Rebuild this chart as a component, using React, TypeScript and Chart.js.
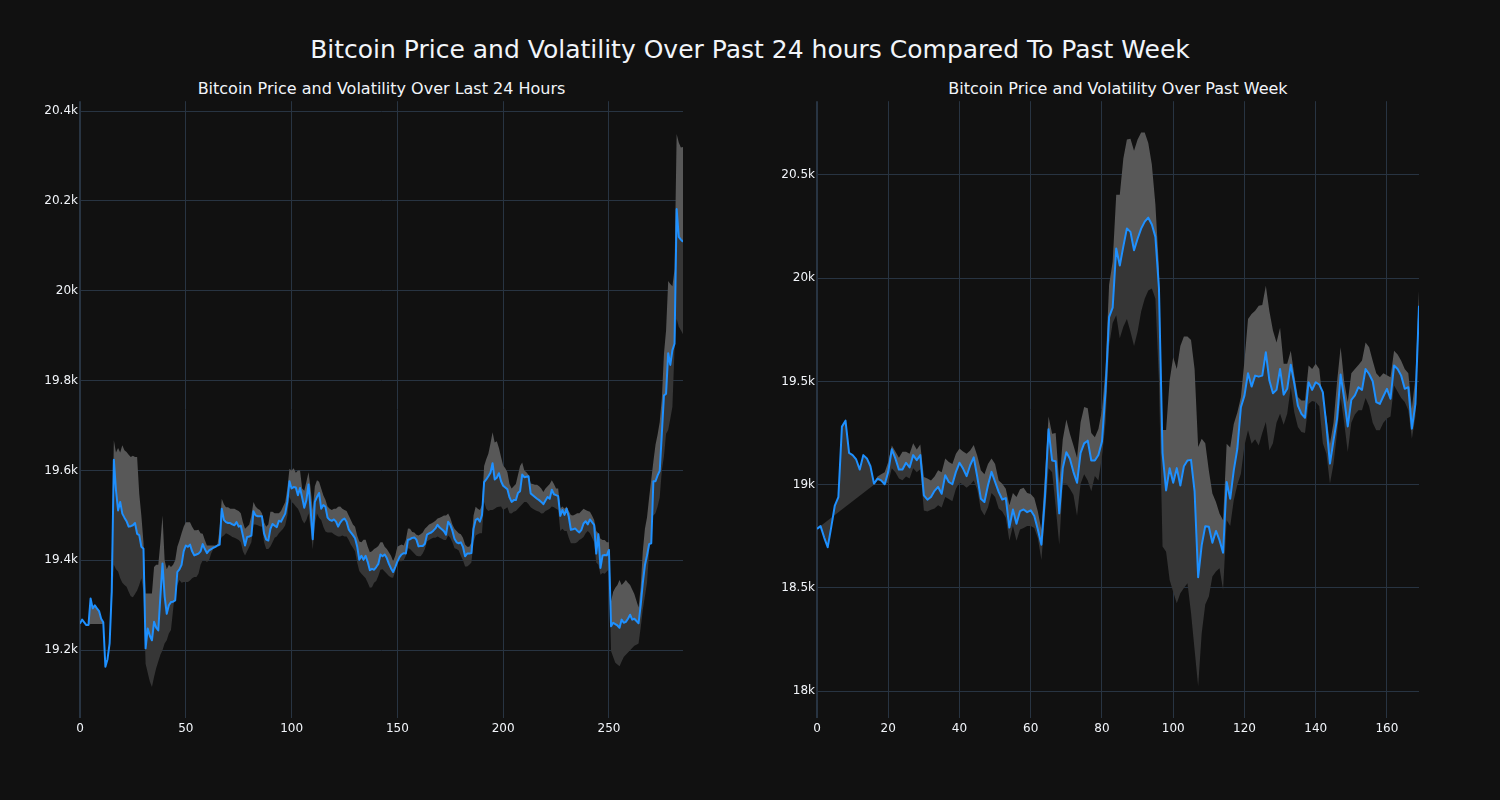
import React, { useEffect, useRef } from "react";
import { Chart, registerables } from "chart.js";
Chart.register(...registerables);

// ---------- Left: last 24 hours ----------
const leftPrice = [
  19259, 19268, 19262, 19256, 19256, 19315, 19293, 19300, 19293, 19287,
  19270, 19262, 19163, 19180, 19215, 19330, 19624, 19556, 19511, 19530,
  19504, 19495, 19487, 19475, 19476, 19478, 19483, 19459, 19456, 19430,
  19426, 19204, 19248, 19232, 19222, 19263, 19250, 19244, 19320, 19393,
  19320, 19281, 19300, 19307, 19308, 19311, 19374, 19380, 19390, 19420,
  19433, 19430, 19435, 19420, 19411, 19413, 19415, 19420, 19436, 19425,
  19416, 19422, 19425, 19428, 19430, 19433, 19435, 19515, 19490, 19485,
  19483, 19483, 19480, 19478, 19485, 19475, 19477, 19455, 19433, 19452,
  19453, 19455, 19509, 19500, 19498, 19498, 19498, 19460, 19446, 19444,
  19470, 19481, 19477, 19474, 19488, 19486, 19495, 19504, 19530, 19576,
  19560, 19563, 19562, 19545, 19561, 19540, 19517, 19534, 19569, 19512,
  19447, 19530, 19541, 19550, 19515, 19523, 19519, 19495, 19490, 19488,
  19491, 19486, 19475, 19484, 19490, 19493, 19486, 19469, 19462, 19456,
  19449, 19431, 19401, 19410, 19401, 19410, 19396, 19378, 19381, 19379,
  19385, 19392, 19413, 19409, 19413, 19405, 19392, 19382, 19374, 19385,
  19397, 19407, 19413, 19416, 19415, 19446, 19447, 19450, 19451, 19446,
  19431, 19432, 19432, 19437, 19457, 19460, 19462, 19466, 19471, 19479,
  19473, 19469, 19465, 19457, 19486, 19479, 19466, 19448, 19440, 19438,
  19440, 19430, 19409, 19415, 19415, 19416, 19470, 19490, 19493, 19486,
  19501, 19574, 19580, 19587, 19595, 19616, 19580, 19584, 19594, 19576,
  19566, 19562, 19558, 19540, 19530, 19534, 19534, 19550, 19554, 19591,
  19585, 19586, 19587, 19549, 19545, 19541, 19537, 19534, 19530, 19525,
  19533, 19541, 19537, 19557, 19547, 19545, 19543, 19499, 19512, 19501,
  19515, 19497, 19468, 19469, 19471, 19466, 19462, 19468, 19482, 19487,
  19480, 19491, 19485, 19479, 19415, 19458, 19383, 19411, 19412, 19411,
  19423, 19253, 19261, 19258, 19255, 19250, 19268, 19261, 19263, 19270,
  19279, 19268, 19270, 19265, 19260, 19300, 19350, 19389, 19411, 19436,
  19438, 19576, 19576, 19589, 19599, 19682, 19767, 19771, 19861, 19835,
  19868, 19882, 20182, 20120, 20114, 20109,
];
const leftUpper = [
  19259, 19268, 19262, 19256, 19256, 19258, 19258, 19258, 19258, 19258,
  19258, 19258, 19163, 19180, 19215, 19400, 19667, 19640, 19650, 19640,
  19656, 19645, 19641, 19635, 19630, 19633, 19630, 19630, 19548, 19500,
  19440, 19326, 19326, 19326, 19326, 19385, 19390, 19390, 19440, 19500,
  19400, 19380, 19390, 19385, 19390, 19400, 19430, 19444, 19460, 19475,
  19485, 19485, 19485, 19475, 19467, 19467, 19468, 19460, 19459, 19445,
  19433, 19433, 19433, 19433, 19433, 19435, 19470, 19537, 19525, 19518,
  19518, 19515, 19515, 19515, 19512, 19510, 19505, 19485, 19470, 19475,
  19480, 19500, 19530, 19520, 19515, 19512, 19505, 19485, 19475, 19480,
  19508, 19508, 19505, 19505, 19505, 19510, 19520, 19530, 19560, 19604,
  19600, 19605, 19595, 19600, 19600, 19560, 19555, 19575, 19596, 19560,
  19512, 19565, 19578, 19575, 19560, 19545, 19535, 19520, 19515, 19512,
  19515, 19515, 19519, 19520, 19515, 19512, 19510, 19500, 19490, 19480,
  19475, 19455, 19442, 19440, 19446, 19446, 19430, 19418, 19420, 19425,
  19428, 19432, 19440, 19440, 19430, 19425, 19418, 19410, 19398, 19410,
  19430, 19433, 19435, 19433, 19445, 19471, 19470, 19463, 19462, 19457,
  19455, 19458, 19462, 19470, 19475, 19480, 19482, 19485, 19488, 19493,
  19495, 19497, 19500, 19500, 19504, 19495, 19480, 19470, 19465, 19460,
  19458, 19450, 19435, 19430, 19430, 19440, 19500, 19519, 19515, 19512,
  19523, 19610, 19625, 19637, 19660, 19685, 19662, 19665, 19650, 19630,
  19611, 19605, 19596, 19570, 19560, 19565, 19570, 19590, 19610, 19618,
  19600, 19596, 19590, 19571, 19570, 19568, 19568, 19565, 19560, 19552,
  19560, 19565, 19570, 19578, 19570, 19560, 19560, 19515, 19520, 19515,
  19520, 19510, 19501, 19500, 19502, 19505, 19505, 19510, 19515, 19512,
  19510, 19508, 19500, 19490, 19465, 19460, 19448, 19445, 19445, 19440,
  19440, 19309, 19330, 19339, 19345, 19356, 19345, 19350, 19356, 19350,
  19345, 19335, 19325, 19310, 19295, 19340, 19420, 19470, 19496, 19540,
  19580, 19620, 19657, 19680, 19708, 19760, 19860, 19912, 20022, 20015,
  20010, 20048, 20349, 20330, 20319, 20320,
];
const leftLower = [
  19259, 19268, 19262, 19256, 19256, 19315, 19293, 19300, 19293, 19287,
  19270, 19262, 19163, 19180, 19215, 19300, 19390, 19380, 19375, 19360,
  19350, 19345, 19341, 19330, 19320, 19318, 19325, 19333, 19345, 19360,
  19330, 19170, 19150, 19130, 19118, 19140, 19160, 19175, 19190, 19200,
  19215, 19222, 19237, 19245, 19290, 19333, 19345, 19356, 19350, 19352,
  19352, 19352, 19355, 19360, 19363, 19363, 19370, 19390, 19400, 19400,
  19396, 19400, 19415, 19425, 19430, 19432, 19440, 19452, 19455, 19460,
  19458, 19455, 19452, 19450, 19448, 19445, 19440, 19420, 19411, 19420,
  19430, 19440, 19480, 19480, 19478, 19476, 19475, 19440, 19425, 19425,
  19431, 19440, 19450, 19453, 19460, 19465, 19470, 19478, 19500, 19541,
  19530, 19526, 19520, 19515, 19504, 19490, 19482, 19490, 19504, 19470,
  19424, 19480, 19504, 19495, 19490, 19475, 19464, 19462, 19462, 19462,
  19458, 19455, 19453, 19453, 19455, 19453, 19453, 19445, 19435, 19428,
  19420, 19395, 19376, 19370, 19365, 19360, 19350, 19339, 19340, 19350,
  19354, 19365, 19379, 19380, 19375, 19370, 19365, 19362, 19361, 19375,
  19398, 19398, 19398, 19400, 19410, 19427, 19425, 19420, 19415, 19410,
  19409, 19409, 19415, 19425, 19442, 19445, 19448, 19450, 19450, 19453,
  19450, 19448, 19445, 19445, 19455, 19450, 19440, 19427, 19425, 19422,
  19410, 19400, 19386, 19386, 19390, 19395, 19440, 19455, 19458, 19460,
  19460, 19530, 19515, 19510, 19512, 19512, 19515, 19518, 19519, 19520,
  19512, 19515, 19518, 19505, 19504, 19508, 19510, 19515, 19520, 19525,
  19530, 19530, 19525, 19518, 19515, 19512, 19510, 19508, 19504, 19505,
  19510, 19512, 19515, 19520, 19518, 19515, 19512, 19465, 19470, 19465,
  19465, 19450, 19438, 19438, 19438, 19440, 19445, 19448, 19452, 19460,
  19465, 19460, 19450, 19440, 19395, 19390, 19368, 19372, 19370, 19375,
  19380, 19198, 19185, 19172, 19168, 19164, 19175, 19185, 19190, 19195,
  19200, 19205, 19210, 19212, 19215, 19250, 19290, 19320, 19350, 19420,
  19496, 19500, 19505, 19520, 19540, 19600, 19631, 19682, 19690, 19715,
  19742, 19870, 19937, 19920, 19912, 19903,
];
const leftXTicks = [0, 50, 100, 150, 200, 250];
const leftYTicks = [19200, 19400, 19600, 19800, 20000, 20200, 20400];

// ---------- Right: past week ----------
const rightPrice = [
  18786, 18799, 18745, 18697, 18794, 18899, 18940, 19281, 19310, 19154,
  19143, 19122, 19073, 19143, 19127, 19089, 19005, 19029, 19021, 19002,
  19062, 19171, 19127, 19073, 19073, 19106, 19083, 19143, 19119, 19143,
  18948, 18927, 18940, 18970, 18989, 18956, 19046, 19013, 19002, 19062,
  19106, 19078, 19041, 19094, 19132, 19037, 18932, 18916, 18997, 19062,
  19013, 18965, 18928, 18935, 18792, 18880, 18811, 18872, 18880, 18867,
  18876, 18848, 18783, 18709, 18941, 19268, 19117, 19113, 18861, 19080,
  19157, 19126, 19061, 19009, 19154, 19200, 19213, 19117, 19117, 19144,
  19209, 19450, 19811, 19857, 20144, 20061, 20154, 20241, 20224, 20135,
  20191, 20240, 20274, 20293, 20260, 20200, 19950, 19154, 18972, 19080,
  19009, 19080, 18996, 19089, 19117, 19120, 18968, 18552, 18707, 18799,
  18796, 18719, 18776, 18731, 18670, 19013, 18932, 19069, 19174, 19375,
  19431, 19540, 19475, 19528, 19523, 19528, 19641, 19504, 19443, 19459,
  19560, 19436, 19464, 19581, 19488, 19383, 19343, 19324, 19496, 19459,
  19496, 19485, 19448, 19287, 19102, 19214, 19319, 19533, 19416, 19282,
  19411, 19432, 19472, 19459, 19560, 19536, 19501, 19400, 19391, 19428,
  19464, 19416, 19577, 19560, 19528, 19464, 19472, 19271, 19391, 19866,
];
const rightUpper = [
  18786, 18799, 18745, 18697, 18794, 18899, 18940, 19281, 19310, 19154,
  19143, 19122, 19073, 19143, 19127, 19089, 19010, 19040, 19050, 19060,
  19110, 19190, 19160, 19130, 19159, 19159, 19150, 19200, 19170, 19195,
  19037, 19030, 19020, 19040, 19070, 19060, 19127, 19110, 19100, 19150,
  19175, 19160, 19150, 19165, 19192, 19140, 19070, 19050, 19100, 19127,
  19100, 19020, 19005, 18980, 18900, 18960, 18940, 18978, 18985, 18960,
  18955, 18935, 18870, 18780, 19050, 19330, 19246, 19250, 19005, 19220,
  19315, 19246, 19190, 19130, 19302, 19376, 19370, 19250, 19230, 19270,
  19360, 19561, 19968, 20080, 20404, 20404, 20580, 20672, 20675, 20617,
  20672, 20706, 20706, 20654, 20550, 20357, 20050, 19265, 19265, 19506,
  19617, 19560, 19672, 19718, 19718, 19700, 19560, 19182, 19222, 19200,
  19069, 18957, 18916, 18860, 18828, 19198, 19180, 19294, 19350, 19423,
  19600, 19802, 19826, 19842, 19866, 19870, 19963, 19840, 19746, 19689,
  19760, 19585, 19585, 19649, 19530, 19424, 19408, 19408, 19577, 19560,
  19585, 19560, 19400, 19330, 19198, 19300, 19500, 19665, 19500, 19400,
  19540, 19560, 19580, 19601, 19689, 19665, 19600, 19540, 19520, 19540,
  19530, 19520, 19649, 19630, 19600, 19560, 19540, 19370, 19520, 19939,
];
const rightLower = [
  18786, null, null, null, null, null, null, null, null, null,
  null, null, null, null, null, null, 19000, 19020, 19015, 19000,
  19010, 19080, 19060, 19030, 19021, 19040, 19030, 19080, 19060, 19075,
  18875, 18870, 18878, 18885, 18900, 18890, 18940, 18930, 18920, 18980,
  19010, 19000, 18985, 19000, 19020, 18975, 18880, 18851, 18890, 18960,
  18940, 18885, 18870, 18840, 18728, 18800, 18728, 18783, 18790, 18800,
  18800, 18790, 18740, 18635, 18850, 19080, 19060, 18894, 18709, 19005,
  19005, 18980, 18950, 18848, 19005, 19050, 19020, 18968, 19042, 19020,
  19135, 19300, 19672, 19783, 19820, 19709, 19765, 19802, 19740, 19672,
  19740, 19839, 19900, 19940, 19950, 19900, 19500, 18700, 18675, 18538,
  18480, 18426, 18474, 18500, 18523, 18379, 18200, 18024, 18281, 18420,
  18458, 18555, 18580, 18595, 18490, 18828, 18800, 18924, 19000, 19053,
  19190, 19263, 19198, 19220, 19190, 19250, 19303, 19166, 19200, 19300,
  19343, 19290, 19343, 19472, 19350, 19279, 19255, 19250, 19391, 19405,
  19400, 19380, 19200, 19150, 19005, 19100, 19250, 19420, 19300, 19158,
  19300, 19340, 19360, 19360, 19420, 19380, 19300, 19263, 19263, 19300,
  19320, 19330, 19480, 19450, 19420, 19400, 19360, 19222, 19330, 19800,
];
const rightXTicks = [0, 20, 40, 60, 80, 100, 120, 140, 160];
const rightYTicks = [18000, 18500, 19000, 19500, 20000, 20500];

const TEXT = "#f2f5fa";
const GRID = "#283442";
const FONT = "'DejaVu Sans', Verdana, sans-serif";

function fmtK(v: number): string {
  const k = v / 1000;
  return `${parseFloat(k.toFixed(2))}k`;
}

type PanelProps = {
  price: (number | null)[];
  upper: (number | null)[];
  lower: (number | null)[];
  xMax: number;
  yMin: number;
  yMax: number;
  xTicks: number[];
  yTicks: number[];
  width: number;
  height: number;
};

function Panel(p: PanelProps) {
  const ref = useRef<HTMLCanvasElement | null>(null);
  useEffect(() => {
    if (!ref.current) return;
    const pts = (arr: (number | null)[]) => arr.map((y, i) => ({ x: i, y }));
    const chart = new Chart(ref.current, {
      type: "line",
      data: {
        datasets: [
          {
            label: "price",
            data: pts(p.price) as any,
            borderColor: "#1e90ff",
            borderWidth: 2,
            pointRadius: 0,
            fill: false,
            tension: 0,
            borderJoinStyle: "round",
          },
          {
            label: "upper",
            data: pts(p.upper) as any,
            borderColor: "rgba(0,0,0,0)",
            borderWidth: 0,
            pointRadius: 0,
            fill: { target: 0 },
            backgroundColor: "#585858",
            tension: 0,
          },
          {
            label: "lower",
            data: pts(p.lower) as any,
            borderColor: "rgba(0,0,0,0)",
            borderWidth: 0,
            pointRadius: 0,
            spanGaps: true,
            fill: { target: 0 },
            backgroundColor: "#363636",
            tension: 0,
          },
        ],
      },
      options: {
        animation: false,
        responsive: false,
        events: [],
        layout: { padding: { left: 0, right: 7, top: 0, bottom: 0 } },
        plugins: {
          legend: { display: false },
          tooltip: { enabled: false },
          title: { display: false },
        },
        scales: {
          x: {
            type: "linear",
            min: 0,
            max: p.xMax,
            afterBuildTicks: (a: any) => {
              a.ticks = p.xTicks.map((v) => ({ value: v }));
            },
            afterFit: (a: any) => {
              a.height = 37;
            },
            grid: {
              color: GRID,
              lineWidth: (ctx: any) => (ctx.tick && ctx.tick.value === 0 ? 2 : 1),
              drawTicks: false,
            },
            border: { display: false },
            ticks: {
              color: TEXT,
              font: { family: FONT, size: 12 },
              padding: 4,
              maxRotation: 0,
              autoSkip: false,
              callback: (v: any) => String(v),
            },
          },
          y: {
            type: "linear",
            min: p.yMin,
            max: p.yMax,
            afterBuildTicks: (a: any) => {
              a.ticks = p.yTicks.map((v) => ({ value: v }));
            },
            afterFit: (a: any) => {
              a.width = 80;
            },
            grid: { color: GRID, lineWidth: 1, drawTicks: false },
            border: { display: false },
            ticks: {
              color: TEXT,
              font: { family: FONT, size: 12 },
              padding: 2,
              autoSkip: false,
              callback: (v: any) => fmtK(Number(v)),
            },
          },
        },
      } as any,
    });
    return () => chart.destroy();
  }, []);
  return <canvas ref={ref} width={p.width} height={p.height} style={{ display: "block" }} />;
}

export default function App() {
  return (
    <div
      style={{
        position: "fixed",
        left: 0,
        top: 0,
        width: 1500,
        height: 800,
        background: "#111111",
        fontFamily: FONT,
        color: TEXT,
        overflow: "hidden",
      }}
    >
      <div
        style={{
          position: "absolute",
          left: 0,
          top: 34,
          width: 1500,
          textAlign: "center",
          fontSize: 25,
          lineHeight: "32px",
        }}
      >
        Bitcoin Price and Volatility Over Past 24 hours Compared To Past Week
      </div>
      <div
        style={{
          position: "absolute",
          left: 80,
          top: 78,
          width: 603,
          textAlign: "center",
          fontSize: 16,
          lineHeight: "22px",
        }}
      >
        Bitcoin Price and Volatility Over Last 24 Hours
      </div>
      <div
        style={{
          position: "absolute",
          left: 817,
          top: 78,
          width: 602,
          textAlign: "center",
          fontSize: 16,
          lineHeight: "22px",
        }}
      >
        Bitcoin Price and Volatility Over Past Week
      </div>
      <div style={{ position: "absolute", left: 0, top: 92 }}>
        <Panel
          price={leftPrice}
          upper={leftUpper}
          lower={leftLower}
          xMax={285}
          yMin={19049}
          yMax={20422}
          xTicks={leftXTicks}
          yTicks={leftYTicks}
          width={690}
          height={663}
        />
      </div>
      <div style={{ position: "absolute", left: 737, top: 92 }}>
        <Panel
          price={rightPrice}
          upper={rightUpper}
          lower={rightLower}
          xMax={169}
          yMin={17870}
          yMax={20857}
          xTicks={rightXTicks}
          yTicks={rightYTicks}
          width={689}
          height={663}
        />
      </div>
    </div>
  );
}
